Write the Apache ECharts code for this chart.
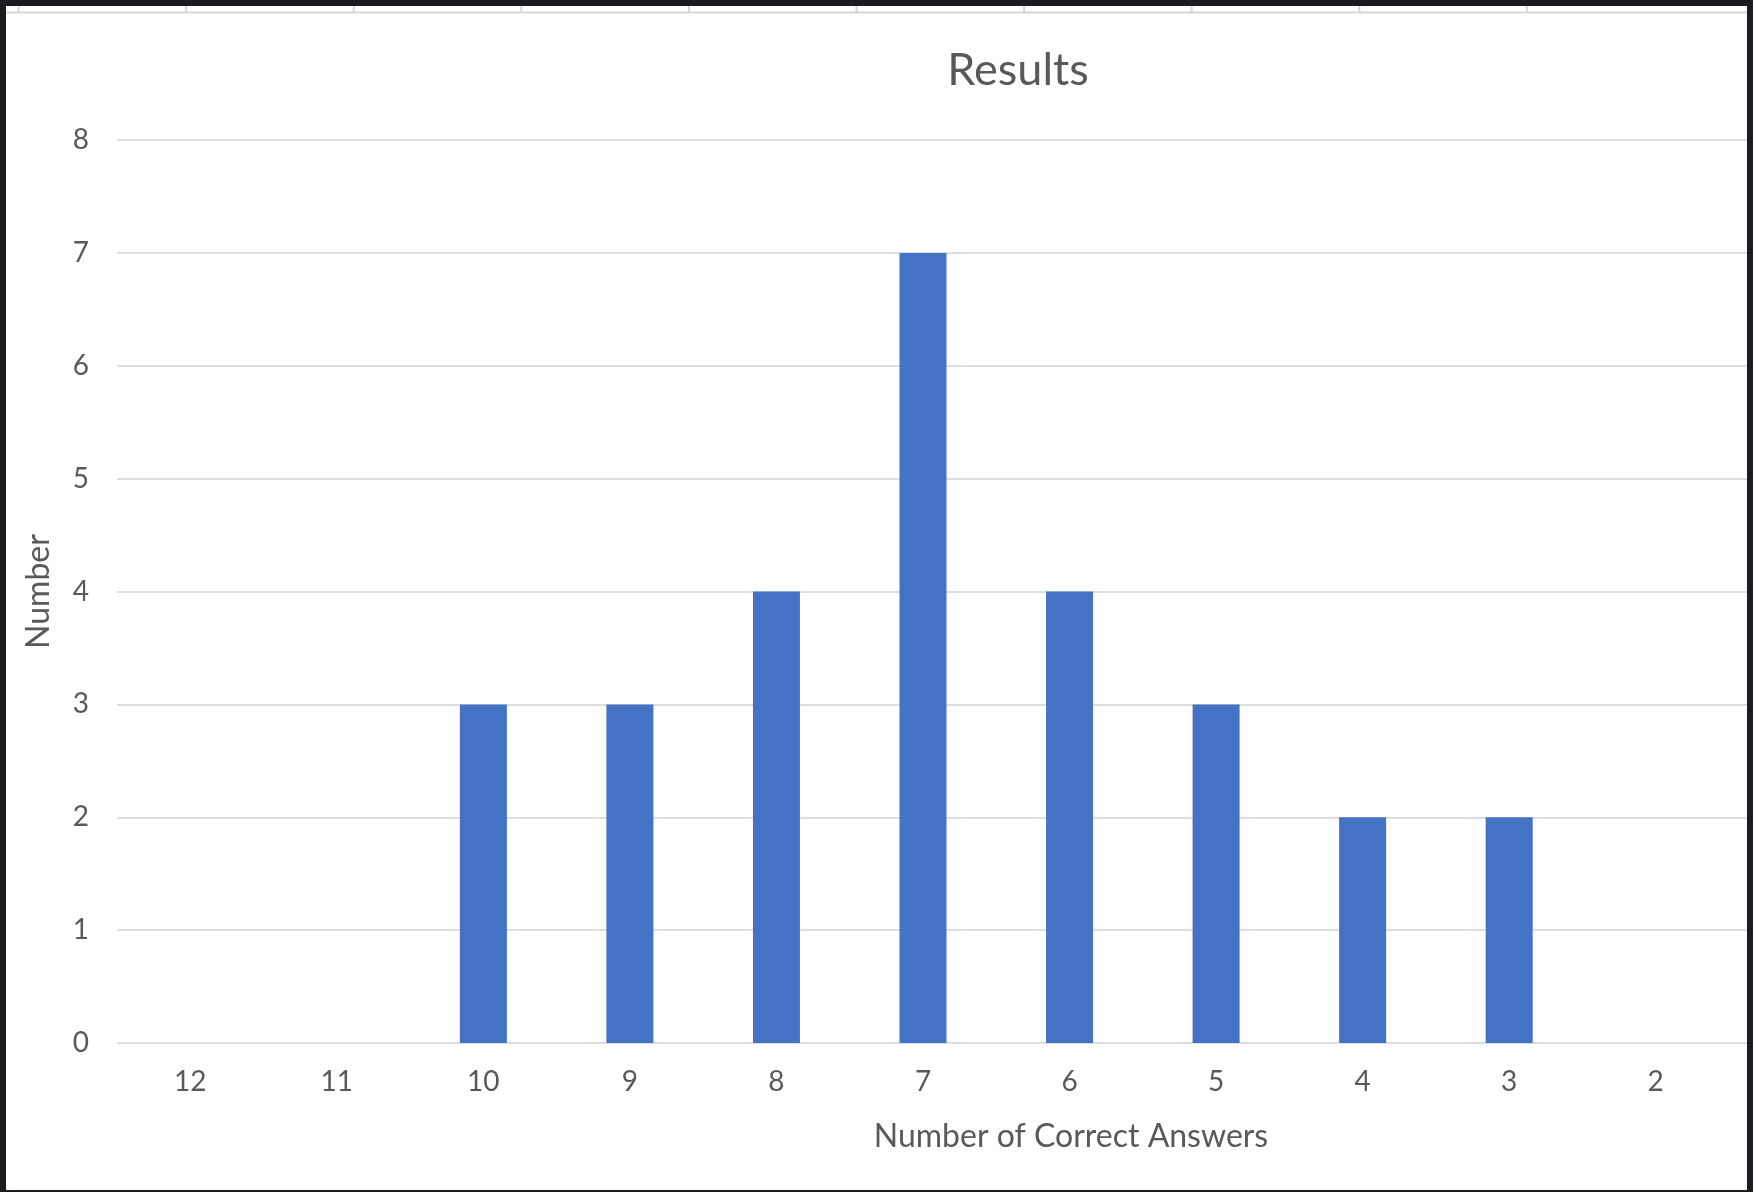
<!DOCTYPE html>
<html>
<head>
<meta charset="utf-8">
<script src="https://cdn.jsdelivr.net/npm/echarts@6/dist/echarts.min.js"></script>
<style>
  html, body { margin: 0; padding: 0; background: #ffffff; }
  #chart { width: 1753px; height: 1192px; }
</style>
</head>
<body>
<div id="chart"></div>
<script>
const categories = ['12', '11', '10', '9', '8', '7', '6', '5', '4', '3', '2'];
const counts = [0, 0, 3, 3, 4, 7, 4, 3, 2, 2, 0];
const yTicks = [0, 1, 2, 3, 4, 5, 6, 7, 8];
const chartTitle = 'Results';
const xTitle = 'Number of Correct Answers';
const yTitle = 'Number';

const FONT = 'Lato, "Open Sans", sans-serif';
const TEXT = '#595959';
const GRID = '#dedede';
const BORDER = '#1c1b1f';

const chart = echarts.init(document.getElementById('chart'), null, { renderer: 'canvas' });

// decorative spreadsheet header row + dark frame
const deco = [];
deco.push({ type: 'line', shape: { x1: 6, y1: 12.5, x2: 1747, y2: 12.5 }, style: { stroke: '#d6d6d6', lineWidth: 2 }, z: 10 });
for (let k = 0; k < 10; k++) {
  const x = 18.5 + 167.6 * k;
  deco.push({ type: 'line', shape: { x1: x, y1: 6, x2: x, y2: 12 }, style: { stroke: '#d6d6d6', lineWidth: 2 }, z: 10 });
}
deco.push({ type: 'rect', shape: { x: 0, y: 0, width: 1753, height: 6 }, style: { fill: BORDER }, z: 20 });
deco.push({ type: 'rect', shape: { x: 0, y: 0, width: 6, height: 1192 }, style: { fill: BORDER }, z: 20 });
deco.push({ type: 'rect', shape: { x: 1747, y: 0, width: 6, height: 1192 }, style: { fill: BORDER }, z: 20 });
deco.push({ type: 'rect', shape: { x: 0, y: 1190, width: 1753, height: 2 }, style: { fill: BORDER }, z: 20 });
deco.push({
  type: 'text', x: 1071, y: 1137,
  style: { text: xTitle, fill: TEXT, font: '32px ' + FONT, textAlign: 'center', textVerticalAlign: 'middle' }, z: 15
});

chart.setOption({
  animation: false,
  backgroundColor: '#ffffff',
  title: {
    text: chartTitle,
    left: 1013,
    top: 43,
    textAlign: 'center',
    textStyle: { color: TEXT, fontFamily: FONT, fontSize: 45, fontWeight: 'normal' }
  },
  grid: [
    { left: 117, right: 24, top: 140, bottom: 149 },
    { left: 117, right: 6, top: 140, bottom: 149 }
  ],
  xAxis: [
    {
      type: 'category',
      gridIndex: 0,
      data: categories,
      boundaryGap: true,
      axisLine: { show: false },
      axisTick: { show: false },
      axisLabel: { color: TEXT, fontFamily: FONT, fontSize: 28, margin: 25 },
      splitLine: { show: false }
    },
    {
      type: 'value', gridIndex: 1, show: false, min: 0, max: 1
    }
  ],
  yAxis: [
    {
      type: 'value',
      gridIndex: 0,
      min: yTicks[0],
      max: yTicks[yTicks.length - 1],
      interval: 1,
      name: yTitle,
      nameLocation: 'middle',
      nameGap: 62,
      nameRotate: 90,
      nameTextStyle: { color: TEXT, fontFamily: FONT, fontSize: 32 },
      axisLine: { show: false },
      axisTick: { show: false },
      axisLabel: { color: TEXT, fontFamily: FONT, fontSize: 28, margin: 28 },
      splitLine: { show: false }
    },
    {
      type: 'value',
      gridIndex: 1,
      min: yTicks[0],
      max: yTicks[yTicks.length - 1],
      interval: 1,
      axisLine: { show: false },
      axisTick: { show: false },
      axisLabel: { show: false },
      splitLine: { show: true, lineStyle: { color: GRID, width: 2 } }
    }
  ],
  series: [
    {
      type: 'bar',
      xAxisIndex: 0,
      yAxisIndex: 0,
      data: counts,
      barWidth: 47,
      itemStyle: { color: '#4472c4' },
      z: 5
    }
  ],
  graphic: deco
});
</script>
</body>
</html>
